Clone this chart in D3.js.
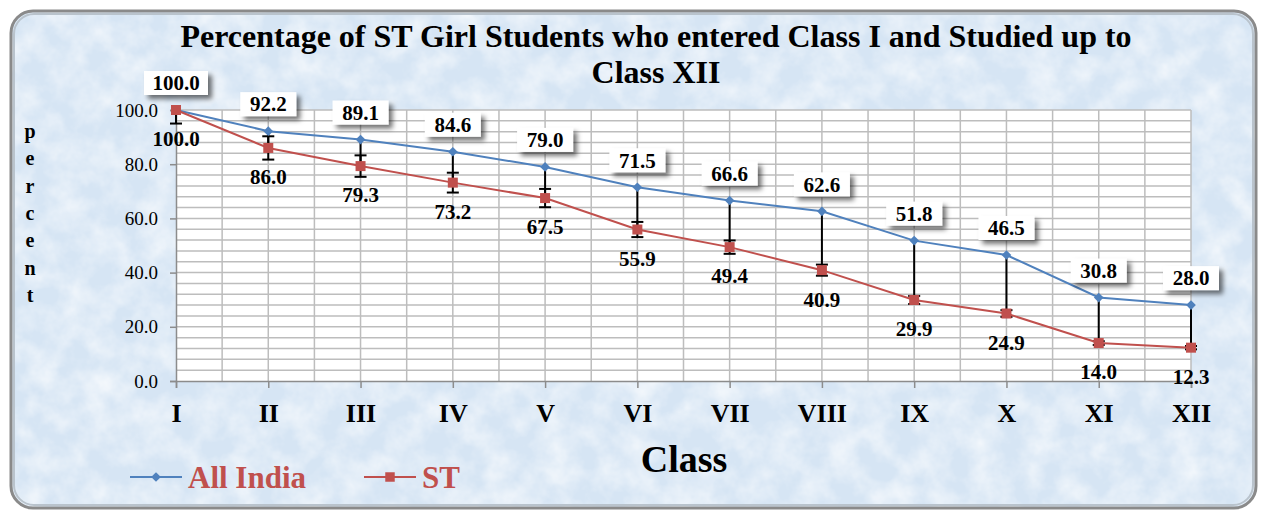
<!DOCTYPE html>
<html>
<head>
<meta charset="utf-8">
<script src="https://cdn.jsdelivr.net/npm/d3@7"></script>
<style>
  body { margin: 0; background: #ffffff; }
  svg { display: block; }
  svg text { font-family: "Liberation Serif", "Times New Roman", serif; }
</style>
</head>
<body>
<div class="chart"></div>
<script>
// chart data
var classes = ["I", "II", "III", "IV", "V", "VI", "VII", "VIII", "IX", "X", "XI", "XII"];
var allIndia = [100.0, 92.2, 89.1, 84.6, 79.0, 71.5, 66.6, 62.6, 51.8, 46.5, 30.8, 28.0];
var st = [100.0, 86.0, 79.3, 73.2, 67.5, 55.9, 49.4, 40.9, 29.9, 24.9, 14.0, 12.3];
var yTicks = [0, 20, 40, 60, 80, 100];
var errorPct = 5;

var svgWidth = 1262;
var svgHeight = 512;
var blue = "#4f81bd";
var red = "#c0504d";

var svg = d3.select(".chart")
    .append("svg")
    .attr("width", svgWidth)
    .attr("height", svgHeight);

var defs = svg.append("defs");

// mottled paper texture for the chart background
var tex = defs.append("filter").attr("id", "tex")
    .attr("x", 0).attr("y", 0).attr("width", "100%").attr("height", "100%");
tex.append("feTurbulence").attr("type", "fractalNoise")
    .attr("baseFrequency", "0.035").attr("numOctaves", 4).attr("seed", 7).attr("result", "noise");
tex.append("feColorMatrix").attr("in", "noise").attr("type", "matrix")
    .attr("values", "0 0 0 0 1  0 0 0 0 1  0 0 0 0 1  1.2 0 0 0 -0.4").attr("result", "spots");
tex.append("feComposite").attr("in", "spots").attr("in2", "SourceGraphic").attr("operator", "in");

var shadow = defs.append("filter").attr("id", "shadow")
    .attr("x", "-20%").attr("y", "-30%").attr("width", "150%").attr("height", "190%");
shadow.append("feDropShadow").attr("dx", 4).attr("dy", 4).attr("stdDeviation", 2.5)
    .attr("flood-color", "#000").attr("flood-opacity", 0.55);

// outer frame
svg.append("rect")
    .attr("x", 11).attr("y", 11).attr("width", 1245).attr("height", 497)
    .attr("rx", 22).attr("ry", 22)
    .attr("fill", "#d6e5f4");
svg.append("rect")
    .attr("x", 11).attr("y", 11).attr("width", 1245).attr("height", 497)
    .attr("rx", 22).attr("ry", 22)
    .attr("fill", "#d6e5f4")
    .attr("filter", "url(#tex)");
svg.append("rect")
    .attr("x", 11).attr("y", 11).attr("width", 1245).attr("height", 497)
    .attr("rx", 22).attr("ry", 22)
    .attr("fill", "none").attr("stroke", "#8a8a8a").attr("stroke-width", 3);
svg.append("rect")
    .attr("x", 14).attr("y", 14).attr("width", 1239).attr("height", 491)
    .attr("rx", 20).attr("ry", 20)
    .attr("fill", "none").attr("stroke", "#b9c3cc").attr("stroke-width", 2);

// scales
var x = d3.scalePoint().domain(classes).range([176, 1191]);
var y = d3.scaleLinear().domain([0, 100]).range([381, 110]);
var step = x.step();

// plot area
var plot = svg.append("g");
plot.append("rect")
    .attr("x", 176).attr("y", 110).attr("width", 1191 - 176).attr("height", 381 - 110)
    .attr("fill", "#ffffff");

// horizontal grid every 4 units
plot.append("g").selectAll("line")
    .data(d3.range(4, 100.1, 4))
    .enter().append("line")
    .attr("x1", 176).attr("x2", 1191)
    .attr("y1", d => y(d)).attr("y2", d => y(d))
    .attr("stroke", "#bdbdbd").attr("stroke-width", 1.5);

// vertical grid at each half category
plot.append("g").selectAll("line")
    .data(d3.range(1, classes.length * 2 - 1))
    .enter().append("line")
    .attr("x1", d => 176 + d * step / 2).attr("x2", d => 176 + d * step / 2)
    .attr("y1", 110).attr("y2", 381)
    .attr("stroke", "#bdbdbd").attr("stroke-width", 1.5);

// axes
var leftAxis = d3.axisLeft(y).tickValues(yTicks).tickSize(6).tickPadding(12)
    .tickFormat(d3.format(".1f"));
var gy = svg.append("g").attr("transform", "translate(176,0)").call(leftAxis)
    .attr("font-family", null).attr("font-size", null);
gy.select(".domain").attr("stroke", "#8c8c8c").attr("stroke-width", 1.5);
gy.selectAll(".tick line").attr("stroke", "#8c8c8c").attr("stroke-width", 1.5);
gy.selectAll(".tick text")
    .attr("font-size", 19).attr("fill", "#000");

var bottomAxis = d3.axisBottom(x).tickSize(7).tickPadding(16);
var gx = svg.append("g").attr("transform", "translate(0,381)").call(bottomAxis)
    .attr("font-family", null).attr("font-size", null);
gx.select(".domain").attr("stroke", "#8c8c8c").attr("stroke-width", 1.5);
gx.selectAll(".tick line").attr("stroke", "#8c8c8c").attr("stroke-width", 1.5);
gx.selectAll(".tick text")
    .attr("font-size", 26).attr("font-weight", "bold").attr("fill", "#000");

// high-low lines
svg.append("g").selectAll("line")
    .data(classes)
    .enter().append("line")
    .attr("x1", d => x(d)).attr("x2", d => x(d))
    .attr("y1", (d, i) => y(allIndia[i])).attr("y2", (d, i) => y(st[i]))
    .attr("stroke", "#000").attr("stroke-width", 2);

// error bars on ST (percentage)
var eb = svg.append("g");
classes.forEach(function (c, i) {
    var e = st[i] * errorPct / 100;
    var hi = Math.min(st[i] + e, 100);
    var lo = st[i] - e;
    eb.append("line")
        .attr("x1", x(c)).attr("x2", x(c)).attr("y1", y(hi)).attr("y2", y(lo))
        .attr("stroke", "#000").attr("stroke-width", 2);
    [st[i] + e, lo].forEach(function (v) {
        if (v > 100) return;
        eb.append("line")
            .attr("x1", x(c) - 6).attr("x2", x(c) + 6).attr("y1", y(v)).attr("y2", y(v))
            .attr("stroke", "#000").attr("stroke-width", 2);
    });
});

// lines
var line = d3.line().x((d, i) => x(classes[i])).y(d => y(d));
svg.append("path").datum(allIndia).attr("d", line)
    .attr("fill", "none").attr("stroke", blue).attr("stroke-width", 2);
svg.append("path").datum(st).attr("d", line)
    .attr("fill", "none").attr("stroke", red).attr("stroke-width", 2);

// markers
svg.append("g").selectAll("path")
    .data(allIndia)
    .enter().append("path")
    .attr("d", d3.symbol().type(d3.symbolDiamond2).size(60))
    .attr("transform", (d, i) => `translate(${x(classes[i])},${y(d)})`)
    .attr("fill", blue);
svg.append("g").selectAll("rect")
    .data(st)
    .enter().append("rect")
    .attr("x", (d, i) => x(classes[i]) - 5)
    .attr("y", d => y(d) - 5)
    .attr("width", 10).attr("height", 10)
    .attr("fill", red);

// data labels: All India (boxed, with shadow)
var lblA = svg.append("g").selectAll("g")
    .data(allIndia)
    .enter().append("g")
    .attr("transform", (d, i) => `translate(${x(classes[i])},${y(d) - 27})`);
lblA.append("rect")
    .attr("x", d => d >= 100 ? -32 : -28).attr("y", -12)
    .attr("width", d => d >= 100 ? 64 : 56).attr("height", 24)
    .attr("fill", "#ffffff")
    .attr("filter", "url(#shadow)");
lblA.append("text")
    .attr("text-anchor", "middle").attr("dy", "0.35em")
    .attr("font-size", 21).attr("font-weight", "bold")
    .text(d => d.toFixed(1));

// data labels: ST
svg.append("g").selectAll("text")
    .data(st)
    .enter().append("text")
    .attr("x", (d, i) => x(classes[i]))
    .attr("y", d => y(d) + 29)
    .attr("text-anchor", "middle").attr("dy", "0.35em")
    .attr("font-size", 21).attr("font-weight", "bold")
    .text(d => d.toFixed(1));

// title
svg.append("text").attr("x", 656).attr("y", 47)
    .attr("text-anchor", "middle").attr("font-size", 32).attr("font-weight", "bold")
    .text("Percentage of ST Girl Students who entered Class I and Studied up to");
svg.append("text").attr("x", 656).attr("y", 83)
    .attr("text-anchor", "middle").attr("font-size", 32).attr("font-weight", "bold")
    .text("Class XII");

// axis titles
svg.append("text").attr("x", 684).attr("y", 472)
    .attr("text-anchor", "middle").attr("font-size", 38).attr("font-weight", "bold")
    .text("Class");

var yLabel = "percent".split("");
svg.append("g").selectAll("text")
    .data(yLabel)
    .enter().append("text")
    .attr("x", 30)
    .attr("y", (d, i) => 131 + i * 27.3)
    .attr("dy", "0.35em")
    .attr("text-anchor", "middle").attr("font-size", 20).attr("font-weight", "bold")
    .text(d => d);

// legend
var legend = [
    { name: "All India", color: blue, x0: 130, shape: "diamond" },
    { name: "ST", color: red, x0: 364, shape: "square" }
];
var lg = svg.append("g").selectAll("g")
    .data(legend)
    .enter().append("g")
    .attr("transform", d => `translate(${d.x0},477)`);
lg.append("line").attr("x1", 0).attr("x2", 52)
    .attr("stroke", d => d.color).attr("stroke-width", 2);
lg.append("path")
    .attr("d", d => d.shape === "diamond"
        ? d3.symbol().type(d3.symbolDiamond2).size(60)()
        : d3.symbol().type(d3.symbolSquare).size(90)())
    .attr("transform", "translate(26,0)")
    .attr("fill", d => d.color);
lg.append("text").attr("x", 58).attr("dy", "0.35em")
    .attr("font-size", 31).attr("font-weight", "bold")
    .attr("fill", red)
    .text(d => d.name);
</script>
</body>
</html>
